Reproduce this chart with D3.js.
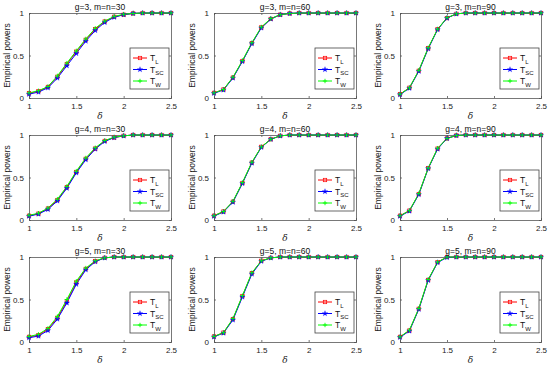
<!DOCTYPE html>
<html><head><meta charset="utf-8">
<script src="https://cdn.jsdelivr.net/npm/d3@7"></script>
<style>body{margin:0;background:#fff}svg{display:block;font-family:"Liberation Sans",Arial,sans-serif}</style>
</head><body><svg id="c" width="550" height="369"></svg>
<script>
const deltas = [1,1.1,1.2,1.3,1.4,1.5,1.6,1.7,1.8,1.9,2,2.1,2.2,2.3,2.4,2.5];
const xTicks = [1,1.5,2,2.5];
const yTicks = [0,0.5,1];
const seriesNames = ["L","SC","W"];
const panelTitles = ["g=3, m=n=30","g=3, m=n=60","g=3, m=n=90","g=4, m=n=30","g=4, m=n=60","g=4, m=n=90","g=5, m=n=30","g=5, m=n=60","g=5, m=n=90"];

const TL_g3_m30  = [0.055,0.08,0.13,0.25,0.40,0.545,0.685,0.81,0.90,0.955,0.98,0.995,1,1,1,1];
const TSC_g3_m30 = [0.045,0.07,0.12,0.235,0.38,0.525,0.67,0.795,0.89,0.95,0.98,0.995,1,1,1,1];
const TW_g3_m30  = [0.06,0.085,0.135,0.26,0.41,0.555,0.695,0.82,0.905,0.96,0.985,0.995,1,1,1,1];

const TL_g3_m60  = [0.06,0.10,0.24,0.435,0.645,0.83,0.93,0.98,0.995,1,1,1,1,1,1,1];
const TSC_g3_m60 = [0.055,0.095,0.235,0.43,0.64,0.825,0.93,0.98,0.995,1,1,1,1,1,1,1];
const TW_g3_m60  = [0.06,0.10,0.245,0.44,0.65,0.835,0.935,0.98,0.995,1,1,1,1,1,1,1];

const TL_g3_m90  = [0.045,0.12,0.32,0.585,0.81,0.94,0.99,1,1,1,1,1,1,1,1,1];
const TSC_g3_m90 = [0.04,0.115,0.315,0.58,0.805,0.94,0.99,1,1,1,1,1,1,1,1,1];
const TW_g3_m90  = [0.045,0.12,0.325,0.59,0.81,0.945,0.99,1,1,1,1,1,1,1,1,1];

const TL_g4_m30  = [0.05,0.075,0.135,0.235,0.385,0.565,0.72,0.84,0.93,0.97,0.99,1,1,1,1,1];
const TSC_g4_m30 = [0.045,0.07,0.125,0.225,0.375,0.555,0.71,0.835,0.925,0.97,0.99,1,1,1,1,1];
const TW_g4_m30  = [0.055,0.08,0.14,0.245,0.395,0.575,0.73,0.85,0.935,0.975,0.99,1,1,1,1,1];

const TL_g4_m60  = [0.05,0.10,0.215,0.435,0.675,0.86,0.95,0.99,1,1,1,1,1,1,1,1];
const TSC_g4_m60 = [0.045,0.095,0.21,0.43,0.67,0.855,0.95,0.99,1,1,1,1,1,1,1,1];
const TW_g4_m60  = [0.05,0.10,0.22,0.44,0.68,0.86,0.95,0.99,1,1,1,1,1,1,1,1];

const TL_g4_m90  = [0.05,0.11,0.305,0.61,0.84,0.96,0.995,1,1,1,1,1,1,1,1,1];
const TSC_g4_m90 = [0.045,0.105,0.30,0.605,0.835,0.96,0.995,1,1,1,1,1,1,1,1,1];
const TW_g4_m90  = [0.05,0.11,0.31,0.61,0.845,0.96,0.995,1,1,1,1,1,1,1,1,1];

const TL_g5_m30  = [0.06,0.08,0.15,0.285,0.48,0.70,0.86,0.95,0.99,1,1,1,1,1,1,1];
const TSC_g5_m30 = [0.05,0.07,0.135,0.27,0.46,0.68,0.85,0.945,0.99,1,1,1,1,1,1,1];
const TW_g5_m30  = [0.065,0.09,0.16,0.30,0.50,0.715,0.87,0.955,0.99,1,1,1,1,1,1,1];

const TL_g5_m60  = [0.065,0.11,0.27,0.54,0.81,0.955,0.99,1,1,1,1,1,1,1,1,1];
const TSC_g5_m60 = [0.06,0.105,0.26,0.53,0.80,0.95,0.99,1,1,1,1,1,1,1,1,1];
const TW_g5_m60  = [0.065,0.11,0.275,0.545,0.815,0.955,0.99,1,1,1,1,1,1,1,1,1];

const TL_g5_m90  = [0.06,0.135,0.39,0.73,0.94,1,1,1,1,1,1,1,1,1,1,1];
const TSC_g5_m90 = [0.055,0.13,0.385,0.725,0.935,0.995,1,1,1,1,1,1,1,1,1,1];
const TW_g5_m90  = [0.06,0.14,0.395,0.735,0.94,1,1,1,1,1,1,1,1,1,1,1];

const panelData = [
  [TL_g3_m30,TSC_g3_m30,TW_g3_m30],[TL_g3_m60,TSC_g3_m60,TW_g3_m60],[TL_g3_m90,TSC_g3_m90,TW_g3_m90],
  [TL_g4_m30,TSC_g4_m30,TW_g4_m30],[TL_g4_m60,TSC_g4_m60,TW_g4_m60],[TL_g4_m90,TSC_g4_m90,TW_g4_m90],
  [TL_g5_m30,TSC_g5_m30,TW_g5_m30],[TL_g5_m60,TSC_g5_m60,TW_g5_m60],[TL_g5_m90,TSC_g5_m90,TW_g5_m90]
];

const colors = ["#ff0000","#0000ff","#00ff00"];
const colLeft = [29,214,400], colW = [142,142,141];
const rowTop = [13,135,257], rowH = 85;
const svg = d3.select("#c");
const starPath = d3.symbol().type(d3.symbolStar).size(9)();

function marker(g, k, x, y){
  if(k===0){
    g.append("rect").attr("x",x-1.7).attr("y",y-1.7).attr("width",3.4).attr("height",3.4)
     .attr("fill","none").attr("stroke",colors[0]).attr("stroke-width",0.7);
  } else if(k===1){
    g.append("path").attr("d",starPath).attr("transform",`translate(${x},${y})`)
     .attr("fill",colors[1]).attr("stroke",colors[1]).attr("stroke-width",0.3);
  } else {
    g.append("path").attr("d",`M${x-2.2},${y}H${x+2.2}M${x},${y-2.2}V${y+2.2}`)
     .attr("stroke",colors[2]).attr("stroke-width",0.9).attr("fill","none");
  }
}

panelData.forEach((ser,i)=>{
  const r = Math.floor(i/3), c = i%3;
  const L = colLeft[c], T = rowTop[r], W = colW[c], H = rowH;
  const x = d3.scaleLinear().domain([1,2.5]).range([L,L+W]);
  const y = d3.scaleLinear().domain([0,1]).range([T+H,T]);
  const g = svg.append("g");
  g.append("rect").attr("x",L).attr("y",T).attr("width",W).attr("height",H).attr("fill","#fff");
  const ax = g.append("g").attr("transform",`translate(0,${T+H})`)
    .call(d3.axisBottom(x).tickValues(xTicks).tickSize(-2).tickPadding(5).tickFormat(d3.format("")));
  const axT = g.append("g").attr("transform",`translate(0,${T})`)
    .call(d3.axisTop(x).tickValues(xTicks).tickSize(-2).tickFormat(""));
  const ay = g.append("g").attr("transform",`translate(${L},0)`)
    .call(d3.axisLeft(y).tickValues(yTicks).tickSize(-2).tickPadding(5).tickFormat(d3.format("")));
  const ayR = g.append("g").attr("transform",`translate(${L+W},0)`)
    .call(d3.axisRight(y).tickValues(yTicks).tickSize(-2).tickFormat(""));
  [ax,axT,ay,ayR].forEach(a=>{
    a.select(".domain").attr("stroke","#555").attr("stroke-width",0.8);
    a.selectAll(".tick line").attr("stroke","#555").attr("stroke-width",0.8);
    a.selectAll(".tick text").attr("fill","#222").attr("font-size",8);
  });
  ser.forEach((vals,k)=>{
    const line = d3.line().x((d,j)=>x(deltas[j])).y(d=>y(d));
    g.append("path").datum(vals).attr("d",line).attr("fill","none")
     .attr("stroke",colors[k]).attr("stroke-width",1);
  });
  ser.forEach((vals,k)=>{
    vals.forEach((v,j)=>marker(g,k,x(deltas[j]),y(v)));
  });
  g.append("text").attr("x",L+W/2).attr("y",T-3).attr("text-anchor","middle")
   .attr("font-size",8.5).attr("fill","#111").text(panelTitles[i]);
  g.append("text").attr("transform",`translate(${L-19},${T+H/2}) rotate(-90)`)
   .attr("text-anchor","middle").attr("font-size",8.5).attr("fill","#222").text("Empirical powers");
  g.append("text").attr("x",L+W/2).attr("y",T+H+21).attr("text-anchor","middle")
   .attr("font-size",9).attr("font-style","italic").attr("font-family","'DejaVu Serif',serif").attr("fill","#222").text("δ");
  const lx = L+W-41, ly = T+H-50, lw = 39, lh = 41;
  const lg = g.append("g");
  lg.append("rect").attr("x",lx).attr("y",ly).attr("width",lw).attr("height",lh)
    .attr("fill","#fff").attr("stroke","#444").attr("stroke-width",0.8);
  seriesNames.forEach((nm,k)=>{
    const yy = ly + 10 + k*11.5;
    lg.append("line").attr("x1",lx+3).attr("x2",lx+17).attr("y1",yy).attr("y2",yy)
      .attr("stroke",colors[k]).attr("stroke-width",1);
    marker(lg,k,lx+10,yy);
    const t = lg.append("text").attr("x",lx+20).attr("y",yy+3).attr("font-size",8.5).attr("fill","#111");
    t.append("tspan").text("T");
    t.append("tspan").attr("dy",2.5).attr("font-size",6).text(nm);
  });
});
</script></body></html>
